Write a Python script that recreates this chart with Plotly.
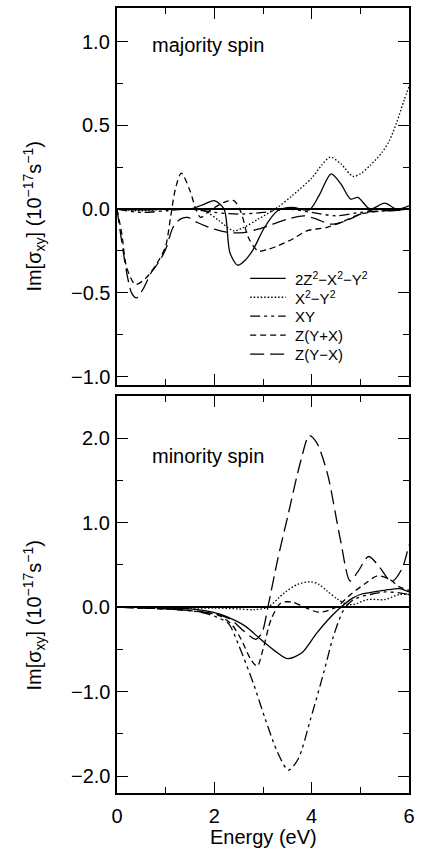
import plotly.graph_objects as go

# ---------------- data ----------------
series_names = ["2Z<sup>2</sup>−X<sup>2</sup>−Y<sup>2</sup>", "X<sup>2</sup>−Y<sup>2</sup>", "XY", "Z(Y+X)", "Z(Y−X)"]

# majority spin (upper panel)
maj_solid_E = [0, 0.5, 1.0, 1.5, 1.8, 2.0, 2.2, 2.32, 2.48, 2.65, 2.8, 3.03, 3.3, 3.6, 3.95, 4.15, 4.4, 4.6, 4.8, 4.95, 5.2, 5.5, 5.75, 6.0]
maj_solid_v = [0, -0.005, 0, 0.0, 0.03, 0.05, 0.0, -0.26, -0.335, -0.30, -0.24, -0.11, -0.01, 0.01, -0.005, 0.08, 0.21, 0.15, 0.06, 0.07, 0.0, 0.035, 0.0, 0.02]

maj_dot_E = [0, 0.5, 1.0, 1.5, 1.8, 2.1, 2.4, 2.6, 2.9, 3.3, 3.6, 4.0, 4.2, 4.38, 4.6, 4.85, 5.0, 5.2, 5.45, 5.6, 5.75, 5.9, 6.0]
maj_dot_v = [0, -0.01, 0, 0, -0.01, -0.07, -0.13, -0.11, -0.06, 0.01, 0.08, 0.185, 0.26, 0.31, 0.27, 0.195, 0.21, 0.26, 0.34, 0.41, 0.52, 0.65, 0.73]

maj_xy_E = [0, 0.5, 1.0, 1.5, 2.0, 2.5, 3.0, 3.5, 4.0, 4.5, 5.0, 5.5, 6.0]
maj_xy_v = [0, -0.02, -0.01, 0, -0.02, -0.03, -0.02, 0.0, -0.02, -0.04, -0.02, -0.01, 0.0]

maj_zpx_E = [0, 0.1, 0.2, 0.38, 0.6, 0.85, 1.0, 1.1, 1.2, 1.32, 1.5, 1.62, 1.72, 1.9, 2.2, 2.4, 2.55, 2.7, 2.9, 3.1, 3.3, 3.6, 3.9, 4.3, 4.6, 5.0, 5.5, 6.0]
maj_zpx_v = [0, -0.15, -0.35, -0.45, -0.41, -0.31, -0.22, -0.05, 0.12, 0.215, 0.11, 0.0, -0.05, -0.01, 0.04, 0.05, -0.02, -0.17, -0.25, -0.24, -0.22, -0.18, -0.13, -0.11, -0.08, -0.03, -0.01, 0.0]

maj_zmx_E = [0, 0.1, 0.2, 0.3, 0.4, 0.55, 0.7, 0.85, 1.0, 1.15, 1.3, 1.45, 1.65, 2.0, 2.3, 2.6, 2.9, 3.2, 3.5, 3.85, 4.1, 4.4, 4.7, 5.0, 5.3, 5.6, 6.0]
maj_zmx_v = [0, -0.2, -0.38, -0.5, -0.53, -0.47, -0.38, -0.32, -0.24, -0.11, -0.06, -0.05, -0.08, -0.12, -0.14, -0.14, -0.12, -0.09, -0.06, -0.04, -0.06, -0.09, -0.07, -0.03, 0.0, -0.01, 0.0]

# minority spin (lower panel)
min_solid_E = [0, 0.5, 1.0, 1.5, 1.8, 2.1, 2.4, 2.65, 2.95, 3.25, 3.5, 3.8, 4.1, 4.4, 4.6, 4.85, 5.0, 5.5, 5.8, 6.0]
min_solid_v = [0, 0, -0.01, -0.02, -0.04, -0.08, -0.15, -0.23, -0.38, -0.52, -0.61, -0.54, -0.31, -0.11, 0.0, 0.11, 0.15, 0.2, 0.22, 0.18]

min_dot_E = [0, 0.5, 1.0, 1.5, 2.0, 2.5, 2.8, 3.1, 3.44, 3.71, 3.98, 4.15, 4.32, 4.52, 4.7, 4.85, 5.15, 5.5, 5.8, 6.0]
min_dot_v = [0, 0, 0, -0.01, -0.01, -0.02, -0.03, 0.0, 0.17, 0.27, 0.30, 0.27, 0.19, 0.10, 0.04, 0.03, 0.09, 0.09, 0.15, 0.15]

min_xy_E = [0, 0.5, 1.0, 1.5, 1.8, 2.1, 2.3, 2.5, 2.8, 3.05, 3.3, 3.52, 3.72, 3.98, 4.25, 4.45, 4.66, 4.86, 5.2, 5.5, 5.8, 6.0]
min_xy_v = [0, -0.01, -0.02, -0.04, -0.07, -0.13, -0.2, -0.45, -0.9, -1.33, -1.72, -1.93, -1.80, -1.32, -0.77, -0.34, -0.03, 0.09, 0.15, 0.18, 0.17, 0.15]

min_zpx_E = [0, 0.5, 1.0, 1.5, 1.8, 2.1, 2.35, 2.55, 2.75, 2.88, 3.0, 3.17, 3.37, 3.6, 3.85, 4.15, 4.5, 4.8, 5.1, 5.35, 5.6, 5.8, 6.0]
min_zpx_v = [0, -0.01, -0.02, -0.04, -0.06, -0.1, -0.2, -0.38, -0.62, -0.70, -0.5, -0.14, 0.05, 0.06, 0.0, -0.06, 0.0, 0.15, 0.28, 0.37, 0.33, 0.24, 0.2]

min_zmx_E = [0, 0.5, 1.0, 1.5, 1.8, 2.1, 2.35, 2.6, 2.85, 2.98, 3.1, 3.3, 3.51, 3.78, 3.95, 4.1, 4.32, 4.59, 4.79, 4.95, 5.17, 5.4, 5.64, 5.85, 6.0]
min_zmx_v = [0, -0.01, -0.02, -0.04, -0.06, -0.09, -0.15, -0.28, -0.38, -0.3, 0.0, 0.56, 1.08, 1.74, 2.03, 1.95, 1.59, 0.80, 0.31, 0.42, 0.6, 0.47, 0.3, 0.45, 0.74]

x_ticks = [0, 2, 4, 6]
top_y_ticks = [-1.0, -0.5, 0.0, 0.5, 1.0]
bot_y_ticks = [-2.0, -1.0, 0.0, 1.0, 2.0]

# ---------------- styling ----------------
dashes = ["solid", "1.5px,2px", "10px,4px,3px,4px,3px,4px", "6px,4px", "14px,6px"]
FONT = "Liberation Sans, Arial, Helvetica, sans-serif"
W, H = 421, 854
L, R, T, B = 117, 8, 6, 61
ph = H - T - B
pw = W - L - R

def py(y):
    return (H - B - y) / ph

def px(x):
    return (x - L) / pw

fig = go.Figure()

maj = [(maj_solid_E, maj_solid_v), (maj_dot_E, maj_dot_v), (maj_xy_E, maj_xy_v),
       (maj_zpx_E, maj_zpx_v), (maj_zmx_E, maj_zmx_v)]
mnr = [(min_solid_E, min_solid_v), (min_dot_E, min_dot_v), (min_xy_E, min_xy_v),
       (min_zpx_E, min_zpx_v), (min_zmx_E, min_zmx_v)]

for i, (e, v) in enumerate(maj):
    fig.add_trace(go.Scatter(x=e, y=v, mode="lines", name=series_names[i], showlegend=False,
                             line=dict(color="black", width=1.3, dash=dashes[i], shape="spline", smoothing=0.8),
                             xaxis="x", yaxis="y"))
for i, (e, v) in enumerate(mnr):
    fig.add_trace(go.Scatter(x=e, y=v, mode="lines", name=series_names[i], showlegend=False,
                             line=dict(color="black", width=1.3, dash=dashes[i], shape="spline", smoothing=0.8),
                             xaxis="x2", yaxis="y2"))

top_dom = [py(384), 1.0]
bot_dom = [0.0, py(395)]

common_x = dict(range=[0, 6], tickvals=x_ticks, ticks="inside", ticklen=11, tickwidth=1, tickcolor="black",
                minor=dict(dtick=1, ticks="inside", ticklen=6, tickwidth=1, tickcolor="black"),
                showline=True, linecolor="black", linewidth=1.5, mirror="allticks", showgrid=False, zeroline=False,
                tickfont=dict(family=FONT, size=20, color="black"))
common_y = dict(ticks="inside", ticklen=11, tickwidth=1, tickcolor="black",
                showline=True, linecolor="black", linewidth=1.5, mirror="allticks", showgrid=False,
                zeroline=True, zerolinecolor="black", zerolinewidth=1.5, showticklabels=False)

fig.update_layout(
    width=W, height=H, margin=dict(l=L, r=R, t=T, b=B),
    paper_bgcolor="white", plot_bgcolor="white",
    font=dict(family=FONT, color="black", size=20),
    xaxis=dict(domain=[0, 1], anchor="y", showticklabels=False, **common_x),
    xaxis2=dict(domain=[0, 1], anchor="y2", showticklabels=True, ticklabelstandoff=4, **common_x),
    yaxis=dict(domain=top_dom, anchor="x", range=[-1.05, 1.2], tickvals=top_y_ticks,
               minor=dict(dtick=0.25, ticks="inside", ticklen=6, tickwidth=1, tickcolor="black"), **common_y),
    yaxis2=dict(domain=bot_dom, anchor="x2", range=[-2.2, 2.5], tickvals=bot_y_ticks,
                minor=dict(dtick=0.5, ticks="inside", ticklen=6, tickwidth=1, tickcolor="black"), **common_y),
    showlegend=False,
)

# y tick labels, placed at their data values on each y axis
for ax, ticks in (("y", top_y_ticks), ("y2", bot_y_ticks)):
    for t in ticks:
        fig.add_annotation(text=f"{t:.1f}".replace("-", "−"), xref="paper", yref=ax, x=px(112), y=t,
                           showarrow=False, xanchor="right", yanchor="middle",
                           font=dict(family=FONT, size=20, color="black"))

# legend key (drawn in the upper panel)
leg_rows = [277, 296, 315, 334, 353]
for i, yy in enumerate(leg_rows):
    fig.add_shape(type="line", xref="paper", yref="paper", x0=px(252), x1=px(288), y0=py(yy), y1=py(yy),
                  line=dict(color="black", width=1.3, dash=dashes[i]))
    fig.add_annotation(text=series_names[i], xref="paper", yref="paper", x=px(295), y=py(yy),
                       showarrow=False, xanchor="left", yanchor="middle",
                       font=dict(family=FONT, size=15, color="black"))

ytitle = "Im[σ<sub>xy</sub>] (10<sup>−17</sup>s<sup>−1</sup>)"
fig.add_annotation(text=ytitle, xref="paper", yref="paper", x=px(33), y=py(215), textangle=-90,
                   showarrow=False, xanchor="center", yanchor="middle", font=dict(size=20))
fig.add_annotation(text=ytitle, xref="paper", yref="paper", x=px(33), y=py(615), textangle=-90,
                   showarrow=False, xanchor="center", yanchor="middle", font=dict(size=20))
fig.add_annotation(text="majority spin", xref="paper", yref="paper", x=px(150), y=py(43),
                   showarrow=False, xanchor="left", yanchor="middle", font=dict(size=20))
fig.add_annotation(text="minority spin", xref="paper", yref="paper", x=px(150), y=py(455),
                   showarrow=False, xanchor="left", yanchor="middle", font=dict(size=20))
fig.add_annotation(text="Energy (eV)", xref="paper", yref="paper", x=0.5, y=py(837),
                   showarrow=False, xanchor="center", yanchor="middle", font=dict(size=20))

fig.write_html("out.html", config={"displayModeBar": False},
               post_script="document.body.style.margin='0px';document.body.style.overflow='hidden';")
